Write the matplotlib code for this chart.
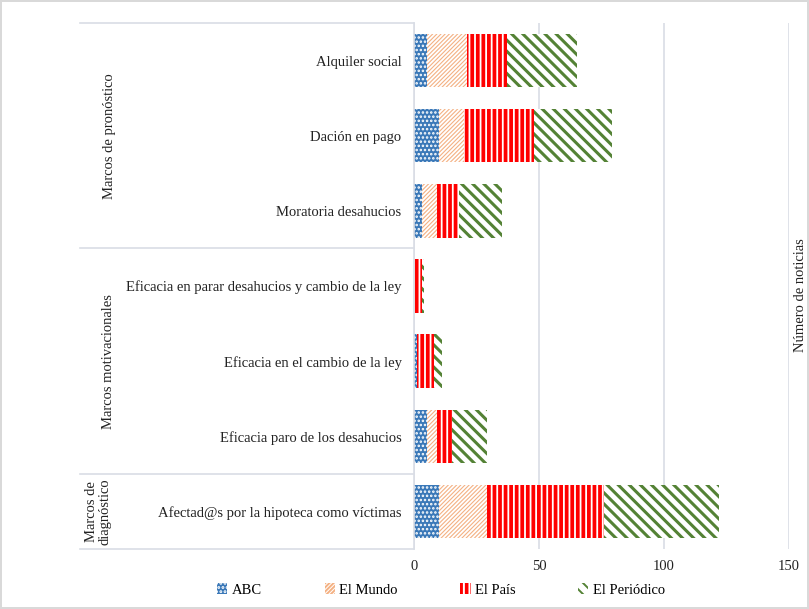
import matplotlib.pyplot as plt
import matplotlib.transforms as mtransforms
import numpy as np

# categories from bottom to top
categories = [
    "Afectad@s por la hipoteca como víctimas",
    "Eficacia paro de los desahucios",
    "Eficacia en el cambio de la ley",
    "Eficacia en parar desahucios y cambio de la ley",
    "Moratoria desahucios",
    "Dación en pago",
    "Alquiler social",
]
abc = [10, 5, 1, 0, 3, 10, 5]
el_mundo = [19, 4, 0, 0, 6, 10, 16]
el_pais = [47, 6, 7, 3, 9, 28, 16]
el_periodico = [46, 14, 3, 1, 17, 31, 28]

series_names = ["ABC", "El Mundo", "El País", "El Periódico"]
x_ticks = [0, 50, 100, 150]

groups = [
    ("Marcos de\ndiagnóstico", -0.5, 0.5),
    ("Marcos motivacionales", 0.5, 3.5),
    ("Marcos de pronóstico", 3.5, 6.5),
]

plt.rcParams["font.family"] = ["Liberation Serif", "DejaVu Serif"]
plt.rcParams["hatch.linewidth"] = 1.4

fig = plt.figure(figsize=(8.09, 6.09), dpi=100)
fig.patch.set_edgecolor("#d9d9d9")
fig.patch.set_linewidth(1.5)
ax = fig.add_axes([414 / 809, 1 - 549 / 609, 375 / 809, 526 / 609])

styles = [
    dict(facecolor="#3a78b8", edgecolor="white", hatch="...."),
    dict(facecolor="white", edgecolor="#f4b183", hatch="////////"),
    dict(facecolor="#ff0000", edgecolor="white", hatch="|||"),
    dict(facecolor="white", edgecolor="#548235", hatch="\\\\\\"),
]
hatch_widths = [1.2, 0.8, 1.3, 2.2]

y = np.arange(len(categories))
left = np.zeros(len(categories))
handles = []
for vals, name, st, hw in zip([abc, el_mundo, el_pais, el_periodico],
                              series_names, styles, hatch_widths):
    b = ax.barh(y, vals, left=left, height=0.71, linewidth=0, label=name, **st)
    for p in b:
        if hasattr(p, "set_hatch_linewidth"):
            p.set_hatch_linewidth(hw)
    handles.append(b)
    left += np.array(vals)

ax.set_xlim(0, 150)
ax.set_ylim(-0.5, 6.5)
ax.set_xticks(x_ticks)
ax.set_yticks(y)
ax.set_yticklabels(categories, fontsize=10.5)
ax.tick_params(axis="both", length=0, labelsize=10.5, colors="#222222")
ax.tick_params(axis="y", pad=9)
ax.tick_params(axis="x", pad=8)
ax.grid(axis="x", color="#d9dde5", linewidth=1.2)
ax.set_axisbelow(True)
for s in ["top", "right", "bottom"]:
    ax.spines[s].set_visible(False)
ax.spines["left"].set_color("#d9dde5")
ax.spines["left"].set_linewidth(1.2)

# group separators and labels on the left
trans = mtransforms.blended_transform_factory(ax.transAxes, ax.transData)
x_start = (80 - 414) / 375
for yy in [-0.5, 0.5, 3.5, 6.5]:
    ax.plot([x_start, 0], [yy, yy], color="#d9dde5", linewidth=1.2,
            transform=trans, clip_on=False)
for label, y0, y1 in groups:
    xpos = (98 - 414) / 375 if "\n" in label else (109 - 414) / 375
    ax.text(xpos, (y0 + y1) / 2, label, rotation=90, ha="center", va="center",
            fontsize=10.5, transform=trans, linespacing=1.0, color="#222222")

fig.text(800 / 809, 1 - 295 / 609, "Número de noticias", rotation=90,
         ha="center", va="center", fontsize=10.5, color="#222222")

fig.legend(handles=handles, labels=series_names, loc="center",
           bbox_to_anchor=(441 / 809, 1 - 590 / 609), ncol=4, frameon=False,
           fontsize=10.5, handlelength=0.7, handleheight=0.7, handletextpad=0.3,
           columnspacing=4.3)

fig.savefig("out.png", dpi=100)
